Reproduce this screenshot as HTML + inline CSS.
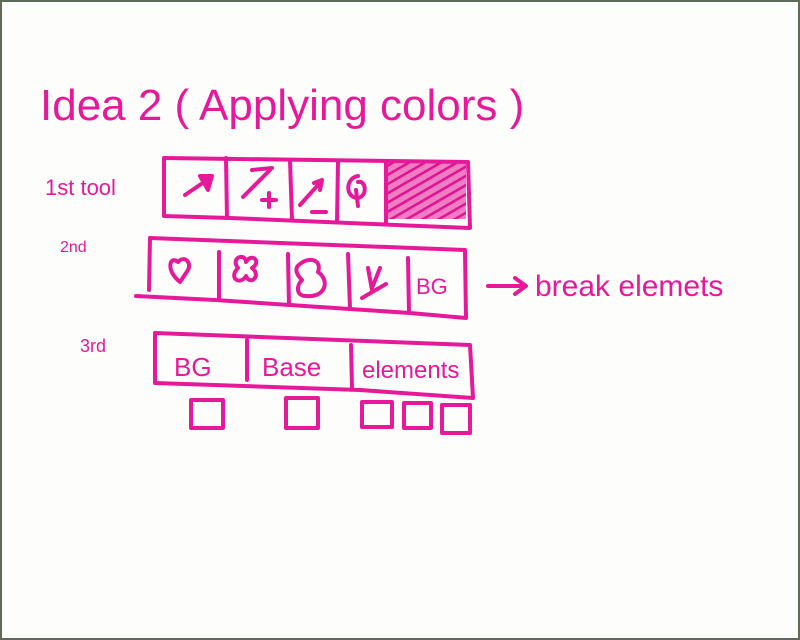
<!DOCTYPE html>
<html><head><meta charset="utf-8"><style>
html,body{margin:0;padding:0;background:#fff}
svg{display:block}
text{font-family:"Liberation Sans",sans-serif;fill:#e6199a}
</style></head><body>
<svg width="800" height="640" viewBox="0 0 800 640">
<defs>
<pattern id="hatch" width="8" height="8" patternUnits="userSpaceOnUse" patternTransform="rotate(60)">
<rect width="8" height="8" fill="#f07cc4"/><line x1="0" y1="0" x2="0" y2="8" stroke="#e0128f" stroke-width="5"/>
</pattern>
</defs>
<rect x="0" y="0" width="800" height="640" fill="#5f6a5a"/>
<rect x="2" y="2" width="796" height="636" fill="#fdfdfc"/>
<g fill="none" stroke="#e6199a" stroke-width="4" stroke-linecap="round" stroke-linejoin="round">
<text x="40" y="120" font-size="44" stroke="none">Idea 2 ( Applying colors )</text>
<text x="45" y="195" font-size="22" stroke="none">1st tool</text>
<text x="60" y="252" font-size="16" stroke="none">2nd</text>
<text x="80" y="352" font-size="18" stroke="none">3rd</text>
<!-- row 1 -->
<g>
<rect x="386" y="161" width="80" height="58" fill="url(#hatch)" stroke="none"/>
<path d="M164 158 L468 162 L470 228 L420 226 L230 218 L164 216 Z"/>
<path d="M226 158 L227 218 M290 160 L292 220 M338 162 L337 222 M386 162 L386 224"/>
<path d="M185 195 L210 178 M200 176 L212 176 L208 190 Z" fill="#e6199a"/>
<path d="M243 197 L270 170 M252 170 L272 168 M262 200 L276 200 M269 193 L269 207"/>
<path d="M300 205 L318 185 M314 183 L322 180 L320 190 M312 212 L326 212"/>
<path d="M358 176 C345 178 345 198 358 198 C368 196 366 180 358 182 M356 190 L358 206"/>
</g>
<!-- row 2 -->
<g>
<path d="M150 238 L465 250 L466 318 L410 313 L215 300 L136 296"/>
<path d="M150 238 L149 290 M219 252 L219 298 M288 254 L289 305 M348 254 L350 308 M408 258 L409 312"/>
<path d="M180 282 C165 270 170 255 178 262 C184 255 192 262 188 270 Z"/>
<path d="M238 268 C230 258 245 252 246 262 C252 252 262 262 252 268 C262 276 250 286 246 276 C240 286 228 278 238 268 Z"/>
<path d="M300 264 C310 256 322 260 318 272 C330 280 326 298 306 296 C296 296 296 286 302 280 C296 274 294 268 300 264 Z"/>
<path d="M368 268 L372 290 M380 268 L372 288 M362 298 L386 284"/>
<text x="416" y="294" font-size="22" stroke="none">BG</text>
</g>
<g>
<path d="M488 286 L525 286 M515 278 L526 286 L515 294"/>
<text x="535" y="296" font-size="30" stroke="none">break elemets</text>
</g>
<!-- row 3 -->
<g>
<path d="M155 333 L470 345 L473 398 L360 390 L155 383 Z"/>
<path d="M247 340 L247 380 M351 345 L352 388"/>
<text x="174" y="376" font-size="26" stroke="none">BG</text>
<text x="262" y="376" font-size="26" stroke="none">Base</text>
<text x="362" y="378" font-size="24" stroke="none">elements</text>
</g>
<g>
<rect x="191" y="400" width="32" height="28"/>
<rect x="286" y="398" width="32" height="30"/>
<rect x="362" y="402" width="30" height="25"/>
<rect x="404" y="403" width="27" height="25"/>
<rect x="442" y="405" width="28" height="28"/>
</g>
</g>
</svg>
</body></html>
